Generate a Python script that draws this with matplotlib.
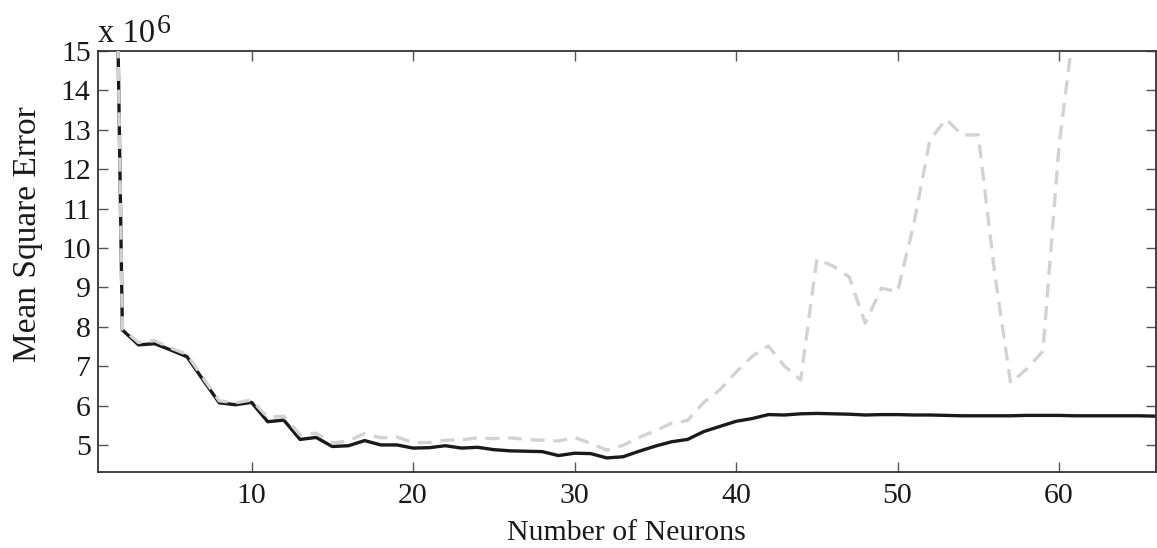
import matplotlib.pyplot as plt
import numpy as np

# Data (MSE in units of 1e6)
neurons = np.arange(1, 67)
mse_train = [35.0, 7.92, 7.54, 7.57, 7.41, 7.24, 6.65, 6.07, 6.02, 6.08,
             5.59, 5.63, 5.14, 5.19, 4.96, 4.98, 5.11, 5.00, 5.00, 4.92,
             4.93, 4.98, 4.92, 4.94, 4.88, 4.85, 4.84, 4.83, 4.73, 4.79,
             4.78, 4.67, 4.70, 4.84, 4.97, 5.08, 5.14, 5.34, 5.47, 5.60,
             5.67, 5.77, 5.76, 5.79, 5.80, 5.79, 5.78, 5.76, 5.77, 5.77,
             5.76, 5.76, 5.75, 5.74, 5.74, 5.74, 5.74, 5.75, 5.75, 5.75,
             5.74, 5.74, 5.74, 5.74, 5.74, 5.73]
mse_test = [35.0, 7.95, 7.60, 7.65, 7.46, 7.30, 6.70, 6.12, 6.07, 6.14,
            5.70, 5.73, 5.26, 5.30, 5.05, 5.10, 5.29, 5.18, 5.20, 5.06,
            5.06, 5.12, 5.13, 5.18, 5.16, 5.18, 5.14, 5.12, 5.10, 5.19,
            5.04, 4.87, 4.99, 5.19, 5.36, 5.55, 5.62, 6.08, 6.40, 6.85,
            7.25, 7.51, 7.00, 6.65, 9.72, 9.54, 9.27, 8.09, 8.98, 8.89,
            10.6, 12.74, 13.27, 12.87, 12.87, 9.4, 6.57, 6.93, 7.38, 12.6,
            15.9, 18.0, 21.0, 24.0, 27.0, 30.0]
yticks = np.arange(5, 16)
xticks = [10, 20, 30, 40, 50, 60]

plt.rcParams['font.family'] = ['Liberation Serif', 'DejaVu Serif']

fig = plt.figure(figsize=(11.57, 5.48), dpi=100)
ax = fig.add_axes([0.0844, 0.1392, 0.9147, 0.7677])

ax.plot(neurons, mse_train, color='#1a1a1a', linewidth=2.4, zorder=2)
ax.plot(neurons, mse_test, color='#d2d2d2', linewidth=2.4,
        dashes=(4.2, 2.6), zorder=3)

ax.set_xlim(0.47, 66)
ax.set_ylim(4.32, 15)
ax.set_xticks(xticks)
ax.set_yticks(yticks)
ax.tick_params(direction='in', length=7, width=1, colors='#555555',
               labelcolor='#1a1a1a', labelsize=21.5, top=True, right=True)
ax.tick_params(axis='y', pad=5)
ax.tick_params(axis='x', pad=8)
for s in ax.spines.values():
    s.set_color('#333333')
    s.set_linewidth(1.3)

ax.set_xlabel('Number of Neurons', fontsize=21.5, color='#1a1a1a', labelpad=8)
fig.text(28 / 1157, 1 - 234 / 548, 'Mean Square Error', fontsize=24,
         color='#1a1a1a', rotation=90, ha='center', va='center')

# exponent label above the axes
base = fig.text(98 / 1157, 1 - 41.7 / 548, 'x 10', fontsize=23.5,
                color='#1a1a1a', va='baseline')
ax.annotate('6', xy=(1, 0), xycoords=base, xytext=(1.5, 11),
            textcoords='offset points', fontsize=20, color='#1a1a1a',
            va='baseline', ha='left', annotation_clip=False)

plt.savefig('out.png', dpi=100)
